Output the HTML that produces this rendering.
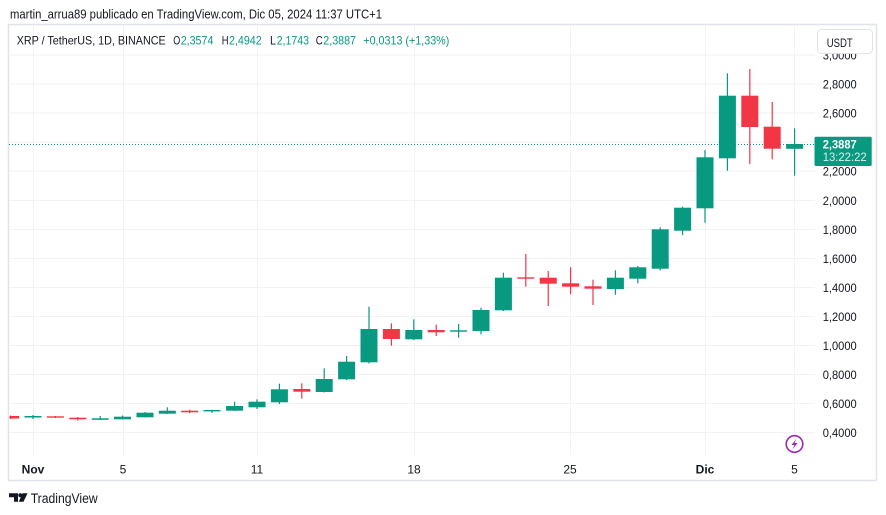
<!DOCTYPE html>
<html><head><meta charset="utf-8"><style>
html,body{margin:0;padding:0;background:#fff;}
svg{display:block;font-family:"Liberation Sans",sans-serif;}
</style></head><body>
<svg width="886" height="515" viewBox="0 0 886 515" xmlns="http://www.w3.org/2000/svg">
<rect width="886" height="515" fill="#fff"/>
<!-- title -->
<text x="10" y="18.5" font-size="12.5" fill="#131722" textLength="372" lengthAdjust="spacingAndGlyphs">martin_arrua89 publicado en TradingView.com, Dic 05, 2024 11:37 UTC+1</text>
<!-- frame -->
<rect x="8.5" y="24.5" width="868" height="456" fill="#fff" stroke="#e0e3eb" stroke-width="1.5"/>
<!-- horizontal gridlines -->
<g stroke="#f0f2f6" stroke-width="1">
<line x1="9" y1="55" x2="815" y2="55"/>
<line x1="9" y1="84" x2="815" y2="84"/>
<line x1="9" y1="113" x2="815" y2="113"/>
<line x1="9" y1="142" x2="815" y2="142"/>
<line x1="9" y1="171" x2="815" y2="171"/>
<line x1="9" y1="200.5" x2="815" y2="200.5"/>
<line x1="9" y1="229.5" x2="815" y2="229.5"/>
<line x1="9" y1="258.5" x2="815" y2="258.5"/>
<line x1="9" y1="287.5" x2="815" y2="287.5"/>
<line x1="9" y1="316.5" x2="815" y2="316.5"/>
<line x1="9" y1="345.5" x2="815" y2="345.5"/>
<line x1="9" y1="374.5" x2="815" y2="374.5"/>
<line x1="9" y1="403.5" x2="815" y2="403.5"/>
<line x1="9" y1="432.5" x2="815" y2="432.5"/>
</g>
<!-- vertical gridlines -->
<g stroke="#f0f2f6" stroke-width="1">
<line x1="33.5" y1="25" x2="33.5" y2="455"/>
<line x1="123.5" y1="25" x2="123.5" y2="455"/>
<line x1="257.5" y1="25" x2="257.5" y2="455"/>
<line x1="414.5" y1="25" x2="414.5" y2="455"/>
<line x1="570.5" y1="25" x2="570.5" y2="455"/>
<line x1="705.5" y1="25" x2="705.5" y2="455"/>
<line x1="794.5" y1="25" x2="794.5" y2="455"/>
</g>
<!-- legend -->
<g font-size="12" fill="#131722">
<text x="16.7" y="44.3" textLength="149" lengthAdjust="spacingAndGlyphs">XRP / TetherUS, 1D, BINANCE</text>
<text x="173.3" y="44.3" textLength="7" lengthAdjust="spacingAndGlyphs">O</text>
<text x="180.7" y="44.3" fill="#089981" textLength="32.7" lengthAdjust="spacingAndGlyphs">2,3574</text>
<text x="221.7" y="44.3" textLength="6.8" lengthAdjust="spacingAndGlyphs">H</text>
<text x="229" y="44.3" fill="#089981" textLength="32.7" lengthAdjust="spacingAndGlyphs">2,4942</text>
<text x="270" y="44.3" textLength="6" lengthAdjust="spacingAndGlyphs">L</text>
<text x="276.7" y="44.3" fill="#089981" textLength="32.3" lengthAdjust="spacingAndGlyphs">2,1743</text>
<text x="315.7" y="44.3" textLength="7" lengthAdjust="spacingAndGlyphs">C</text>
<text x="323.3" y="44.3" fill="#089981" textLength="32.7" lengthAdjust="spacingAndGlyphs">2,3887</text>
<text x="363.3" y="44.3" fill="#089981" textLength="86" lengthAdjust="spacingAndGlyphs">+0,0313 (+1,33%)</text>
</g>
<!-- dotted price line -->
<line x1="9" y1="144.5" x2="815" y2="144.5" stroke="#089981" stroke-width="1" stroke-dasharray="1 2"/>
<!-- candles -->
<clipPath id="pc"><rect x="9.5" y="25" width="806" height="430"/></clipPath>
<g clip-path="url(#pc)">
<g stroke="#089981" stroke-width="1.2" fill="#089981">
<line x1="33" y1="415" x2="33" y2="419"/><rect x="24.5" y="416" width="17" height="1.5" stroke="none"/>
<line x1="100.2" y1="416" x2="100.2" y2="420"/><rect x="91.7" y="418.3" width="17" height="1.5" stroke="none"/>
<line x1="122.5" y1="415.5" x2="122.5" y2="419.5"/><rect x="114" y="416.7" width="17" height="2.6" stroke="none"/>
<line x1="145" y1="412" x2="145" y2="417.5"/><rect x="136.5" y="412.7" width="17" height="4.6" stroke="none"/>
<line x1="167.3" y1="407.3" x2="167.3" y2="414"/><rect x="158.8" y="410.7" width="17" height="3" stroke="none"/>
<line x1="212" y1="409.8" x2="212" y2="413"/><rect x="203.5" y="410" width="17" height="1.4" stroke="none"/>
<line x1="234.6" y1="401.7" x2="234.6" y2="411"/><rect x="226.1" y="406" width="17" height="4.7" stroke="none"/>
<line x1="257" y1="399.3" x2="257" y2="409"/><rect x="248.5" y="401.7" width="17" height="5.6" stroke="none"/>
<line x1="279.4" y1="383.7" x2="279.4" y2="404"/><rect x="270.9" y="389.3" width="17" height="13" stroke="none"/>
<line x1="324.2" y1="368.3" x2="324.2" y2="392.5"/><rect x="315.7" y="379" width="17" height="13" stroke="none"/>
<line x1="346.6" y1="356" x2="346.6" y2="380"/><rect x="338.1" y="361.7" width="17" height="17.6" stroke="none"/>
<line x1="369" y1="306.7" x2="369" y2="363.5"/><rect x="360.5" y="329" width="17" height="33.3" stroke="none"/>
<line x1="413.8" y1="319.3" x2="413.8" y2="340"/><rect x="405.3" y="330" width="17" height="9.3" stroke="none"/>
<line x1="458.6" y1="324" x2="458.6" y2="337.7"/><rect x="450.1" y="330.3" width="17" height="1.4" stroke="none"/>
<line x1="481" y1="307.7" x2="481" y2="334.3"/><rect x="472.5" y="310" width="17" height="21" stroke="none"/>
<line x1="503.4" y1="272.7" x2="503.4" y2="311"/><rect x="494.9" y="277.7" width="17" height="32.6" stroke="none"/>
<line x1="615.4" y1="270.3" x2="615.4" y2="294.7"/><rect x="606.9" y="277.7" width="17" height="11.3" stroke="none"/>
<line x1="637.8" y1="266" x2="637.8" y2="283.3"/><rect x="629.3" y="267.3" width="17" height="11.4" stroke="none"/>
<line x1="660.2" y1="227.3" x2="660.2" y2="270.3"/><rect x="651.7" y="229.3" width="17" height="39.4" stroke="none"/>
<line x1="682.6" y1="206.7" x2="682.6" y2="235"/><rect x="674.1" y="207.7" width="17" height="23" stroke="none"/>
<line x1="705" y1="150" x2="705" y2="222.7"/><rect x="696.5" y="157.3" width="17" height="51" stroke="none"/>
<line x1="727.4" y1="73.3" x2="727.4" y2="170.7"/><rect x="718.9" y="95.7" width="17" height="62.6" stroke="none"/>
<line x1="794.6" y1="128.3" x2="794.6" y2="175.7"/><rect x="786.1" y="144" width="17" height="4.8" stroke="none"/>
</g>
<g stroke="#f23645" stroke-width="1.2" fill="#f23645">
<line x1="10.6" y1="415.5" x2="10.6" y2="419"/><rect x="2.1" y="416" width="17" height="2.5" stroke="none"/>
<line x1="55.4" y1="416" x2="55.4" y2="418"/><rect x="46.9" y="416.3" width="17" height="1.4" stroke="none"/>
<line x1="77.8" y1="417" x2="77.8" y2="420.5"/><rect x="69.3" y="417.7" width="17" height="1.6" stroke="none"/>
<line x1="189.7" y1="409.7" x2="189.7" y2="413.3"/><rect x="181.2" y="410.7" width="17" height="1.6" stroke="none"/>
<line x1="301.8" y1="383.3" x2="301.8" y2="398.7"/><rect x="293.3" y="389" width="17" height="2.7" stroke="none"/>
<line x1="391.4" y1="323.3" x2="391.4" y2="345.7"/><rect x="382.9" y="329" width="17" height="10" stroke="none"/>
<line x1="436.2" y1="324.7" x2="436.2" y2="336"/><rect x="427.7" y="330" width="17" height="2.3" stroke="none"/>
<line x1="525.8" y1="254" x2="525.8" y2="286.7"/><rect x="517.3" y="277.3" width="17" height="1.4" stroke="none"/>
<line x1="548.2" y1="271" x2="548.2" y2="306"/><rect x="539.7" y="277.7" width="17" height="6" stroke="none"/>
<line x1="570.6" y1="267.3" x2="570.6" y2="294.3"/><rect x="562.1" y="283.3" width="17" height="3.4" stroke="none"/>
<line x1="593" y1="279.7" x2="593" y2="305"/><rect x="584.5" y="286.3" width="17" height="2.4" stroke="none"/>
<line x1="749.8" y1="69" x2="749.8" y2="164"/><rect x="741.3" y="95.7" width="17" height="31.3" stroke="none"/>
<line x1="772.2" y1="102" x2="772.2" y2="159.3"/><rect x="763.7" y="126.7" width="17" height="22" stroke="none"/>
</g>
</g>
<!-- price axis labels -->
<g font-size="12" fill="#131722">
<text x="822.7" y="59.3" textLength="34" lengthAdjust="spacingAndGlyphs">3,0000</text>
<text x="822.7" y="88.3" textLength="34" lengthAdjust="spacingAndGlyphs">2,8000</text>
<text x="822.7" y="117.3" textLength="34" lengthAdjust="spacingAndGlyphs">2,6000</text>
<text x="822.7" y="175.3" textLength="34" lengthAdjust="spacingAndGlyphs">2,2000</text>
<text x="822.7" y="204.8" textLength="34" lengthAdjust="spacingAndGlyphs">2,0000</text>
<text x="822.7" y="233.8" textLength="34" lengthAdjust="spacingAndGlyphs">1,8000</text>
<text x="822.7" y="262.8" textLength="34" lengthAdjust="spacingAndGlyphs">1,6000</text>
<text x="822.7" y="291.8" textLength="34" lengthAdjust="spacingAndGlyphs">1,4000</text>
<text x="822.7" y="320.8" textLength="34" lengthAdjust="spacingAndGlyphs">1,2000</text>
<text x="822.7" y="349.8" textLength="34" lengthAdjust="spacingAndGlyphs">1,0000</text>
<text x="822.7" y="378.8" textLength="34" lengthAdjust="spacingAndGlyphs">0,8000</text>
<text x="822.7" y="407.8" textLength="34" lengthAdjust="spacingAndGlyphs">0,6000</text>
<text x="822.7" y="436.8" textLength="34" lengthAdjust="spacingAndGlyphs">0,4000</text>
</g>
<!-- USDT button -->
<rect x="817.5" y="29.5" width="55" height="24" rx="4" fill="#fff" stroke="#e0e3eb" stroke-width="1"/>
<text x="826.7" y="47" font-size="12" fill="#131722" textLength="26" lengthAdjust="spacingAndGlyphs">USDT</text>
<!-- current price box -->
<rect x="814.5" y="136.7" width="57.2" height="29.3" rx="1.5" fill="#089981"/>
<text x="822.7" y="148.5" font-size="12" font-weight="bold" fill="#fff" textLength="34" lengthAdjust="spacingAndGlyphs">2,3887</text>
<text x="822.7" y="161" font-size="12" fill="#fff" fill-opacity="0.85" textLength="44" lengthAdjust="spacingAndGlyphs">13:22:22</text>
<!-- x axis labels -->
<g font-size="12" fill="#131722" text-anchor="middle">
<text x="33" y="473.3" font-weight="bold">Nov</text>
<text x="123" y="473.3">5</text>
<text x="257" y="473.3">11</text>
<text x="414" y="473.3">18</text>
<text x="570" y="473.3">25</text>
<text x="705" y="473.3" font-weight="bold">Dic</text>
<text x="794.5" y="473.3">5</text>
</g>
<!-- lightning icon -->
<circle cx="794.5" cy="444" r="8.3" fill="#fff" stroke="#9c27b0" stroke-width="1.6"/>
<path d="M796.5 438.5 L791.5 445 L794.5 445 L792.5 449.5 L797.5 443 L794.5 443 Z" fill="#9c27b0"/>
<!-- TradingView logo -->
<path d="M9 493.3 H18 V501.7 H14 V497.3 H9 Z" fill="#131722"/>
<circle cx="20.3" cy="495.3" r="2" fill="#131722"/>
<path d="M22.5 493.3 H27.5 L23.5 501.7 H18.8 Z" fill="#131722"/>
<text x="30.7" y="502.8" font-size="13.5" fill="#131722" textLength="67" lengthAdjust="spacingAndGlyphs">TradingView</text>
</svg>
</body></html>
